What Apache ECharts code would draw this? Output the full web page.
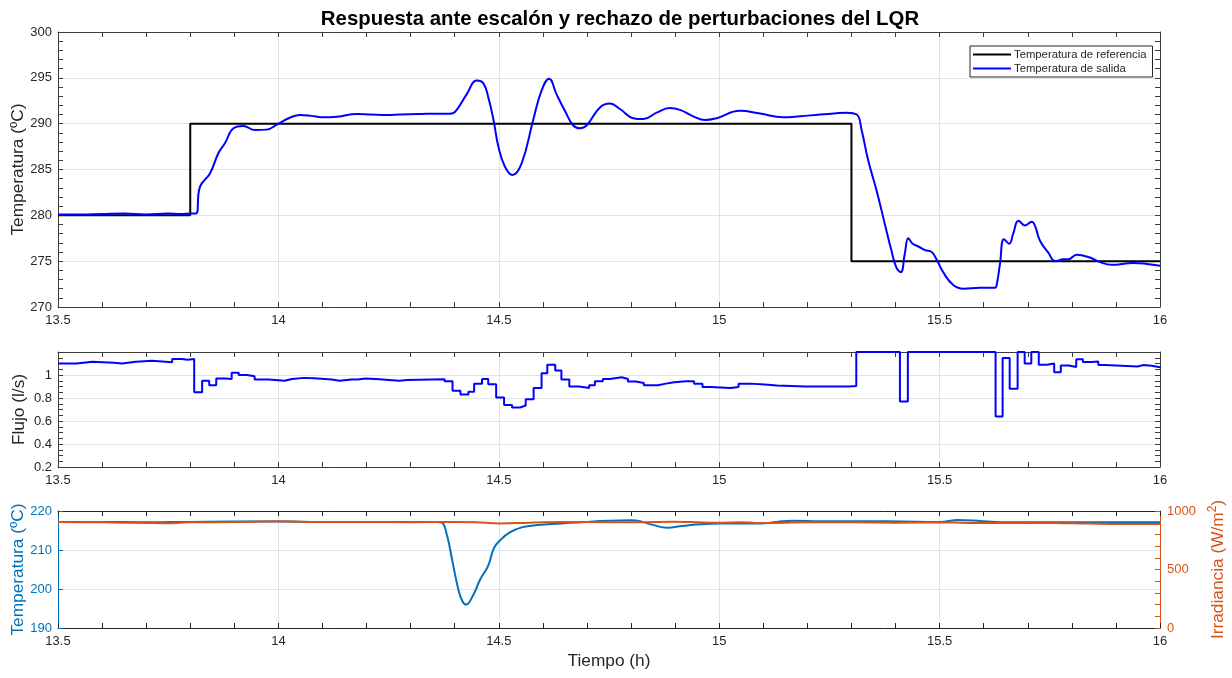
<!DOCTYPE html>
<html>
<head>
<meta charset="utf-8">
<script src="https://cdn.jsdelivr.net/npm/echarts@6/dist/echarts.min.js"></script>
<style>
  html, body { margin: 0; padding: 0; background: #ffffff; }
  #chart { width: 1232px; height: 678px; }
</style>
</head>
<body>
<div id="chart"></div>
<script>
// ---- Step reference (setpoint) ----
const refTime = [13.5, 13.8, 13.8, 15.3, 15.3, 16.0];
const refTemp = [280, 280, 290, 290, 275, 275];

// ---- Outlet temperature (LQR response) ----
const outTime = [13.5, 13.55, 13.6, 13.65, 13.7, 13.75, 13.78, 13.8, 13.813, 13.822, 13.845, 13.864, 13.879, 13.898,
  13.92, 13.947, 13.973, 14.0, 14.026, 14.049, 14.075, 14.098, 14.133, 14.178, 14.21, 14.246, 14.276, 14.317,
  14.336, 14.389, 14.401, 14.427, 14.45, 14.465, 14.476, 14.488, 14.499, 14.514, 14.531, 14.552, 14.578, 14.597,
  14.614, 14.631, 14.65, 14.669, 14.684, 14.699, 14.73, 14.752, 14.775, 14.805, 14.828, 14.858, 14.888, 14.911,
  14.941, 14.968, 14.994, 15.047, 15.093, 15.145, 15.183, 15.229, 15.26, 15.289, 15.312, 15.323, 15.338, 15.357,
  15.376, 15.391, 15.402, 15.412, 15.421, 15.429, 15.439, 15.452, 15.467, 15.482, 15.493, 15.508, 15.531, 15.554,
  15.592, 15.626, 15.629, 15.637, 15.646, 15.658, 15.667, 15.679, 15.694, 15.709, 15.716, 15.728, 15.747, 15.762,
  15.781, 15.792, 15.811, 15.841, 15.864, 15.89, 15.939, 15.97, 16.0];
const outTemp = [280.1, 280.1, 280.15, 280.2, 280.1, 280.2, 280.15, 280.2, 280.2, 283.1, 284.6, 286.8, 287.9, 289.5,
  289.75, 289.3, 289.35, 290.0, 290.65, 290.95, 290.85, 290.7, 290.76, 291.05, 291.0, 290.95, 291.0, 291.05,
  291.08, 291.08, 291.3, 293.2, 294.7, 294.4, 292.9, 290.4, 287.5, 285.3, 284.4, 285.7, 290.4, 293.6,
  294.9, 293.2, 291.4, 289.8, 289.5, 289.8, 291.8, 292.2, 291.6, 290.6, 290.5, 291.2, 291.7, 291.5,
  290.8, 290.4, 290.6, 291.4, 291.1, 290.7, 290.8, 291.0, 291.1, 291.2, 291.0, 289.3, 286.0, 282.7,
  279.0, 276.1, 274.3, 273.8, 275.8, 277.5, 276.9, 276.6, 276.2, 276.0, 275.2, 273.8, 272.4, 272.0,
  272.1, 272.1, 272.3, 274.7, 277.4, 276.9, 278.0, 279.4, 278.9, 279.3, 278.9, 277.2, 275.9, 275.0,
  275.2, 275.2, 275.7, 275.4, 274.9, 274.6, 274.8, 274.7, 274.5];

// ---- Flow rate (control action, sampled/held) ----
const flowTime = [13.5, 13.542, 13.578, 13.627, 13.645, 13.677, 13.713, 13.759, 13.78, 13.794, 13.809, 13.827, 13.843,
  13.859, 13.879, 13.894, 13.91, 13.928, 13.946, 13.978, 14.014, 14.031, 14.058, 14.081, 14.121, 14.139, 14.166,
  14.18, 14.197, 14.229, 14.251, 14.274, 14.292, 14.377, 14.395, 14.413, 14.431, 14.444, 14.462, 14.476, 14.494,
  14.512, 14.53, 14.548, 14.561, 14.579, 14.597, 14.61, 14.628, 14.642, 14.66, 14.682, 14.705, 14.718, 14.736,
  14.752, 14.779, 14.793, 14.811, 14.829, 14.861, 14.879, 14.898, 14.925, 14.943, 14.962, 14.98, 15.026, 15.044,
  15.071, 15.103, 15.131, 15.195, 15.24, 15.295, 15.311, 15.41, 15.428, 15.627, 15.643, 15.659, 15.677, 15.693,
  15.708, 15.725, 15.743, 15.76, 15.775, 15.793, 15.81, 15.825, 15.844, 15.86, 15.876, 15.949, 15.962, 15.981, 16.0];
const flowVal = [1.10, 1.115, 1.106, 1.10, 1.115, 1.124, 1.11, 1.14, 1.133, 1.14, 0.85, 0.95, 0.91,
  0.97, 0.966, 1.02, 1.0, 0.99, 0.96, 0.95, 0.966, 0.975, 0.972, 0.96, 0.95, 0.96, 0.96,
  0.97, 0.963, 0.957, 0.95, 0.956, 0.963, 0.945, 0.864, 0.83, 0.855, 0.925, 0.966, 0.92, 0.805,
  0.74, 0.718, 0.735, 0.79, 0.887, 1.016, 1.09, 1.04, 0.96, 0.90, 0.887, 0.91, 0.945, 0.966,
  0.98, 0.966, 0.943, 0.93, 0.91, 0.925, 0.937, 0.945, 0.945, 0.925, 0.896, 0.887, 0.896, 0.925,
  0.917, 0.908, 0.90, 0.90, 0.90, 0.905, 1.2, 0.77, 1.2, 0.64, 1.147, 0.88, 1.2, 1.1,
  1.2, 1.09, 1.1, 1.025, 1.083, 1.07, 1.136, 1.112, 1.118, 1.086, 1.074, 1.086, 1.08, 1.068, 1.06];

// ---- Inlet temperature (disturbance) ----
const inletTime = [13.5, 13.6, 13.7, 13.8, 13.9, 14.0, 14.1, 14.2, 14.3, 14.36, 14.371, 14.382, 14.395, 14.408, 14.417,
  14.426, 14.44, 14.458, 14.476, 14.489, 14.503, 14.525, 14.552, 14.588, 14.642, 14.696, 14.75, 14.8, 14.82, 14.847,
  14.884, 14.911, 14.957, 15.003, 15.094, 15.131, 15.167, 15.231, 15.323, 15.414, 15.5, 15.542, 15.597, 15.652,
  15.734, 15.85, 16.0];
const inletTemp = [217.2, 217.2, 217.1, 217.2, 217.3, 217.3, 217.2, 217.2, 217.2, 217.2, 217.0, 214.0, 207.0, 200.0, 197.0,
  196.0, 198.0, 202.5, 206.0, 210.5, 212.5, 214.5, 215.8, 216.4, 216.8, 217.2, 217.5, 217.6, 217.4, 216.5,
  215.7, 216.1, 216.6, 216.8, 216.8, 217.2, 217.5, 217.4, 217.4, 217.3, 217.2, 217.7, 217.4, 217.1,
  217.1, 217.1, 217.1];

// ---- Solar irradiance (disturbance) ----
const irrTime = [13.5, 13.6, 13.65, 13.7, 13.75, 13.8, 13.9, 14.0, 14.1, 14.2, 14.3, 14.4, 14.45, 14.5, 14.55, 14.6,
  14.7, 14.8, 14.85, 14.9, 14.95, 15.0, 15.05, 15.1, 15.2, 15.3, 15.4, 15.5, 15.6, 15.7, 15.8, 15.9, 16.0];
const irrVal = [905, 903, 900, 898, 896, 903, 906, 912, 906, 906, 904, 906, 903, 894, 898, 903,
  906, 903, 906, 908, 904, 900, 903, 897, 903, 903, 900, 903, 898, 899, 895, 889, 889];

// ---- Axis tick values ----
const xTicks = [13.5, 14, 14.5, 15, 15.5, 16];
const tempTicks = [270, 275, 280, 285, 290, 295, 300];
const flowTicks = [0.2, 0.4, 0.6, 0.8, 1];
const inletTicks = [190, 200, 210, 220];
const irrTicks = [0, 500, 1000];

const pairs = (xs, ys) => xs.map((x, i) => [x, ys[i]]);

const FONT = '"Liberation Sans", Arial, Helvetica, sans-serif';
const INK = '#262626';
const AXIS = '#3c3c3c';
const GRID = '#e3e3e3';
const BLUE_T = '#0072BD';
const ORANGE = '#D95319';
const NAME_SIZE = 17.3;

const step = (arr) => arr[1] - arr[0];

function xAxisPair(gridIndex, nameText, lineColor) {
  const c = lineColor || AXIS;
  const base = {
    type: 'value', gridIndex,
    min: xTicks[0], max: xTicks[xTicks.length - 1], interval: step(xTicks),
    axisLine: { show: true, onZero: false, lineStyle: { color: c, width: 1 } },
    axisTick: { show: true, inside: true, length: 5, lineStyle: { color: c } },
    minorTick: { show: true, splitNumber: 5, length: 5, lineStyle: { color: c } },
    minorSplitLine: { show: false }
  };
  return [
    Object.assign({}, base, {
      position: 'bottom',
      axisLabel: { show: true, margin: 7, color: INK, fontSize: 13, fontFamily: FONT,
        formatter: v => String(Math.round(v * 10) / 10) },
      splitLine: { show: true, lineStyle: { color: GRID, width: 1 } },
      name: nameText || '', nameLocation: 'middle', nameGap: 25, nameMoveOverlap: false,
      nameTextStyle: { color: INK, fontSize: NAME_SIZE, fontFamily: FONT }
    }),
    Object.assign({}, base, {
      position: 'top',
      axisLabel: { show: false },
      splitLine: { show: false }
    })
  ];
}

function yAxisPair(gridIndex, ticks, minorSplit, nameText, nameGap, fmt) {
  const base = {
    type: 'value', gridIndex,
    min: ticks[0], max: ticks[ticks.length - 1], interval: step(ticks),
    axisLine: { show: true, onZero: false, lineStyle: { color: AXIS, width: 1 } },
    axisTick: { show: true, inside: true, length: 5, lineStyle: { color: AXIS } },
    minorTick: { show: true, splitNumber: minorSplit, length: 5, lineStyle: { color: AXIS } }
  };
  return [
    Object.assign({}, base, {
      position: 'left',
      axisLabel: { show: true, margin: 6, color: INK, fontSize: 13, fontFamily: FONT,
        formatter: fmt || (v => String(Math.round(v * 100) / 100)) },
      splitLine: { show: true, lineStyle: { color: GRID, width: 1 } },
      name: nameText, nameLocation: 'middle', nameGap: nameGap, nameRotate: 90, nameMoveOverlap: false,
      nameTextStyle: { color: INK, fontSize: NAME_SIZE, fontFamily: FONT }
    }),
    Object.assign({}, base, {
      position: 'right',
      axisLabel: { show: false },
      splitLine: { show: false }
    })
  ];
}

const flowAxisMax = 1.2;

const xAxes = [].concat(
  xAxisPair(0),
  xAxisPair(1),
  xAxisPair(2, 'Tiempo (h)', '#262626')
);

const topY = yAxisPair(0, tempTicks, 5, 'Temperatura (ºC)', 31);
const midY = yAxisPair(1, [0.2, 0.4, 0.6, 0.8, 1.0, flowAxisMax], 4, 'Flujo (l/s)', 30,
  v => (v > flowTicks[flowTicks.length - 1] + 0.05 ? '' : String(Math.round(v * 10) / 10)));

const inletY = {
  type: 'value', gridIndex: 2, position: 'left',
  min: inletTicks[0], max: inletTicks[inletTicks.length - 1], interval: step(inletTicks),
  axisLine: { show: true, onZero: false, lineStyle: { color: BLUE_T, width: 1 } },
  axisTick: { show: true, inside: true, length: 5, lineStyle: { color: BLUE_T } },
  minorTick: { show: false },
  axisLabel: { show: true, margin: 6, color: BLUE_T, fontSize: 13, fontFamily: FONT },
  splitLine: { show: true, lineStyle: { color: '#dfe6ee', width: 1 } },
  name: 'Temperatura (ºC)', nameLocation: 'middle', nameGap: 31, nameRotate: 90, nameMoveOverlap: false,
  nameTextStyle: { color: BLUE_T, fontSize: NAME_SIZE, fontFamily: FONT }
};
const irrY = {
  type: 'value', gridIndex: 2, position: 'right',
  min: irrTicks[0], max: irrTicks[irrTicks.length - 1], interval: step(irrTicks),
  axisLine: { show: true, onZero: false, lineStyle: { color: ORANGE, width: 1 } },
  axisTick: { show: true, inside: true, length: 5, lineStyle: { color: ORANGE } },
  minorTick: { show: true, splitNumber: 5, length: 5, lineStyle: { color: ORANGE } },
  axisLabel: { show: true, margin: 7, color: ORANGE, fontSize: 13, fontFamily: FONT,
    formatter: v => String(v) },
  splitLine: { show: false },
  name: '{t|Irradiancia (W/m}{s|2}{t|)}', nameLocation: 'middle', nameGap: 47, nameRotate: 90,
  nameMoveOverlap: false,
  nameTextStyle: {
    color: ORANGE, fontSize: NAME_SIZE, fontFamily: FONT,
    rich: {
      t: { color: ORANGE, fontSize: NAME_SIZE, fontFamily: FONT, lineHeight: 20, verticalAlign: 'bottom' },
      s: { color: ORANGE, fontSize: 12, fontFamily: FONT, lineHeight: 20, verticalAlign: 'top' }
    }
  }
};

const option = {
  animation: false,
  backgroundColor: '#ffffff',
  title: {
    text: 'Respuesta ante escalón y rechazo de perturbaciones del LQR',
    left: 615, top: 4, textAlign: 'center',
    textStyle: { fontFamily: FONT, fontSize: 20.4, fontWeight: 'bold', color: '#000000' }
  },
  legend: {
    data: ['Temperatura de referencia', 'Temperatura de salida'],
    left: 970, top: 46, orient: 'vertical',
    icon: 'rect', itemWidth: 38, itemHeight: 2, itemGap: 3,
    padding: [3, 6, 3, 3],
    borderColor: '#262626', borderWidth: 1, backgroundColor: '#ffffff',
    textStyle: { fontFamily: FONT, fontSize: 11.3, color: INK, padding: [0, 0, 0, -2] },
    selectedMode: false
  },
  grid: [
    { left: 58, top: 32, width: 1102, height: 275, containLabel: false, outerBoundsMode: 'none' },
    { left: 58, top: 352, width: 1102, height: 115, containLabel: false, outerBoundsMode: 'none' },
    { left: 58, top: 511, width: 1102, height: 117, containLabel: false, outerBoundsMode: 'none' }
  ],
  xAxis: xAxes,
  yAxis: [].concat(topY, midY, [inletY, irrY]),
  series: [
    {
      name: 'Temperatura de referencia', type: 'line',
      xAxisIndex: 0, yAxisIndex: 0,
      data: pairs(refTime, refTemp),
      symbol: 'none', lineStyle: { color: '#000000', width: 2 }, itemStyle: { color: '#000000' }
    },
    {
      name: 'Temperatura de salida', type: 'line',
      xAxisIndex: 0, yAxisIndex: 0,
      data: pairs(outTime, outTemp),
      smooth: 0.45,
      symbol: 'none', lineStyle: { color: '#0000ff', width: 2 }, itemStyle: { color: '#0000ff' }
    },
    {
      name: 'Flujo', type: 'line', step: 'end',
      xAxisIndex: 2, yAxisIndex: 2,
      data: pairs(flowTime, flowVal),
      clip: false,
      symbol: 'none', lineStyle: { color: '#0000ff', width: 2 }, itemStyle: { color: '#0000ff' }
    },
    {
      name: 'Temperatura de entrada', type: 'line',
      xAxisIndex: 4, yAxisIndex: 4,
      data: pairs(inletTime, inletTemp),
      smooth: 0.45,
      symbol: 'none', lineStyle: { color: BLUE_T, width: 2 }, itemStyle: { color: BLUE_T }
    },
    {
      name: 'Irradiancia', type: 'line',
      xAxisIndex: 4, yAxisIndex: 5,
      data: pairs(irrTime, irrVal),
      smooth: 0.3,
      symbol: 'none', lineStyle: { color: ORANGE, width: 2 }, itemStyle: { color: ORANGE }
    }
  ]
};

const chart = echarts.init(document.getElementById('chart'), null, { renderer: 'canvas' });
chart.setOption(option);
</script>
</body>
</html>
